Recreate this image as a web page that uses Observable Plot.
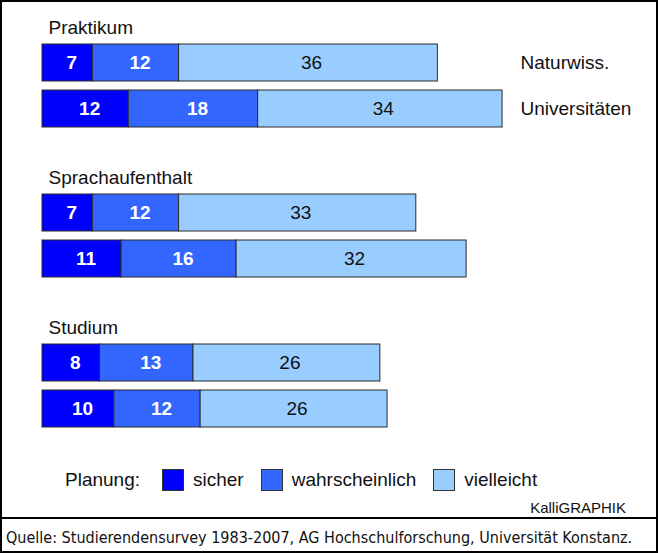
<!DOCTYPE html>
<html>
<head>
<meta charset="utf-8">
<script src="https://cdn.jsdelivr.net/npm/d3@7"></script>
<script src="https://cdn.jsdelivr.net/npm/@observablehq/plot@0.6"></script>
<style>
  html, body { margin: 0; padding: 0; background: #fff; }
  #frame { position: relative; width: 658px; height: 553px; box-sizing: border-box; border: 2px solid #000; background: #fff; font-family: "Liberation Sans", Arial, sans-serif; }
  #legend { position: absolute; left: 63px; top: 467px; display: flex; align-items: center; font-size: 19px; color: #111; white-space: nowrap; }
  #legend .title { margin-right: 22px; }
  #legend .sw { width: 22px; height: 22px; border: 1px solid #333; box-sizing: border-box; margin-right: 9px; }
  #legend .lab { margin-right: 17px; }
  #kalli { position: absolute; right: 30px; top: 497px; font-size: 15px; color: #111; }
  #divider { position: absolute; left: 0; right: 0; top: 515px; height: 2px; background: #000; }
  #caption { position: absolute; left: 4px; top: 526px; font-family: "DejaVu Sans Condensed", "DejaVu Sans", sans-serif; font-stretch: condensed; font-size: 16px; color: #111; white-space: nowrap; }
</style>
</head>
<body>
<div id="frame">
  <div id="chart"></div>
  <div id="legend"></div>
  <div id="kalli">KalliGRAPHIK</div>
  <div id="divider"></div>
  <div id="caption"></div>
</div>
<script>
const groups = ["Praktikum", "Sprachaufenthalt", "Studium"];
const rows = ["Naturwiss.", "Universitäten"];
const series = ["sicher", "wahrscheinlich", "vielleicht"];
const colors = ["#0000ff", "#3366ff", "#99ccff"];
const sicher = [7, 12, 7, 11, 8, 10];
const wahrscheinlich = [12, 18, 12, 16, 13, 12];
const vielleicht = [36, 34, 33, 32, 26, 26];
const legendTitle = "Planung:";
const captionText = "Quelle: Studierendensurvey 1983-2007, AG Hochschulforschung, Universität Konstanz.";

const seriesValues = [sicher, wahrscheinlich, vielleicht];
const data = [];
groups.forEach((g, gi) => {
  rows.forEach((r, ri) => {
    const i = gi * rows.length + ri;
    series.forEach((s, si) => {
      data.push({group: g, row: r, series: s, value: seriesValues[si][i]});
    });
  });
});

const chart = Plot.plot({
  width: 654,
  height: 450,
  marginTop: 0,
  marginBottom: 0,
  marginLeft: 40,
  marginRight: 141,
  style: {fontFamily: "Liberation Sans, Arial, sans-serif", fontSize: "19px", background: "#fff", color: "#111", overflow: "visible"},
  x: {domain: [0, 65.8], axis: null},
  y: {domain: rows, axis: null, paddingInner: 0.2, paddingOuter: 0.1, insetTop: 37, insetBottom: 21},
  fy: {domain: groups, axis: null, padding: 0},
  color: {domain: series, range: colors},
  marks: [
    Plot.barX(data, Plot.stackX({x: "value", y: "row", fy: "group", z: "series", fill: "series", stroke: "#2a2a2a", strokeWidth: 1})),
    Plot.text(data, Plot.stackX({x: "value", y: "row", fy: "group", z: "series",
      text: d => d.series === "vielleicht" ? null : String(d.value),
      fill: "white", fontWeight: "bold", fontSize: 19, dx: 4})),
    Plot.text(data, Plot.stackX({x: "value", y: "row", fy: "group", z: "series",
      text: d => d.series === "vielleicht" ? String(d.value) : null,
      fill: "#111", fontSize: 19, dx: 3})),
    Plot.text(groups, {fy: d => d, text: d => d, frameAnchor: "top-left", textAnchor: "start", lineAnchor: "bottom", dx: 6, dy: 31, fontSize: 19, fill: "#111"}),
    Plot.axisY({anchor: "right", facetAnchor: "top", tickSize: 0, tickPadding: 5, fontSize: 19, label: null})
  ]
});
document.getElementById("chart").appendChild(chart);

const legend = document.getElementById("legend");
const t = document.createElement("span");
t.className = "title";
t.textContent = legendTitle;
legend.appendChild(t);
series.forEach((s, i) => {
  const sw = document.createElement("span");
  sw.className = "sw";
  sw.style.background = colors[i];
  legend.appendChild(sw);
  const lab = document.createElement("span");
  lab.className = "lab";
  lab.textContent = s;
  legend.appendChild(lab);
});
document.getElementById("caption").textContent = captionText;
</script>
</body>
</html>
